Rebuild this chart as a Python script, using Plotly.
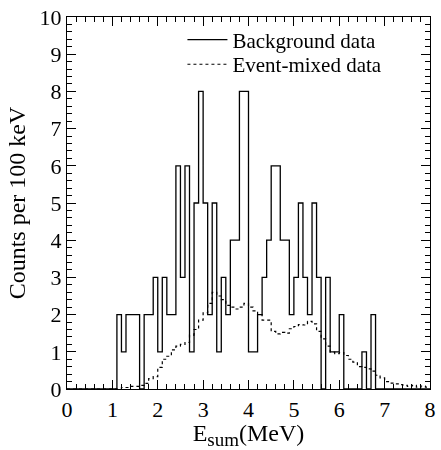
import numpy as np
import plotly.graph_objects as go

# bin lower edges (MeV), 100 keV bins
bin_edges = [round(0.1 * i, 1) for i in range(81)]

# Background data counts per 100 keV bin (0.0 .. 7.9)
background = [0, 0, 0, 0, 0, 0, 0, 0, 0, 0,
              0, 2, 1, 2, 2, 2, 0, 2, 2, 3,
              1, 3, 2, 2, 6, 3, 6, 1, 5, 8,
              5, 2, 5, 1, 3, 2, 4, 4, 8, 8,
              1, 1, 2, 3, 4, 6, 6, 4, 4, 2,
              3, 5, 3, 2, 5, 3, 0, 3, 1, 1,
              2, 0, 0, 0, 0, 1, 0, 2, 0, 0,
              0, 0, 0, 0, 0, 0, 0, 0, 0, 0]

# Event-mixed data per 100 keV bin (0.0 .. 7.9)
mixed = [0, 0, 0, 0, 0, 0, 0, 0, 0, 0,
         0, 0, 0.04, 0.04, 0.07, 0.07, 0.10, 0.15, 0.28, 0.33,
         0.58, 0.80, 0.88, 1.05, 1.15, 1.20, 1.25, 1.45, 1.60, 1.85,
         2.05, 2.30, 2.60, 2.50, 2.40, 2.25, 2.20, 2.15, 2.20, 2.30,
         2.20, 2.10, 2.00, 1.85, 1.85, 1.55, 1.48, 1.52, 1.50, 1.62,
         1.68, 1.73, 1.72, 1.82, 1.75, 1.55, 1.35, 1.15, 0.99, 0.95,
         0.98, 0.90, 0.80, 0.72, 0.60, 0.58, 0.54, 0.48, 0.37, 0.30,
         0.20, 0.16, 0.14, 0.12, 0.10, 0.07, 0.10, 0.05, 0.08, 0.05]

x_ticks = [0, 1, 2, 3, 4, 5, 6, 7, 8]
y_ticks = [0, 1, 2, 3, 4, 5, 6, 7, 8, 9, 10]

xs = bin_edges
ys_bg = background + [background[-1]]
ys_mx = mixed + [mixed[-1]]

FONT = "Liberation Serif"

fig = go.Figure()
fig.add_trace(go.Scatter(x=xs, y=ys_bg, mode="lines", line_shape="hv",
                         line=dict(color="black", width=1.3),
                         name="Background data", legend="legend"))
fig.add_trace(go.Scatter(x=xs, y=ys_mx, mode="lines", line_shape="hv",
                         line=dict(color="black", width=1.2, dash="3px,3px"),
                         name="Event-mixed data", legend="legend2"))
# invisible trace carrying the mirrored (top/right) tick axes
fig.add_trace(go.Scatter(x=[0, 8], y=[0, 10], mode="markers", opacity=0,
                         xaxis="x2", yaxis="y2", showlegend=False, hoverinfo="skip"))

tick_common = dict(showgrid=False, zeroline=False, showline=True,
                   linecolor="black", linewidth=1.3,
                   ticks="inside", ticklen=9, tickwidth=1.3, tickcolor="black",
                   ticklabeloverflow="allow",
                   tickfont=dict(family=FONT, size=22, color="black"))
minor = dict(dtick=0.2, ticks="inside", ticklen=5, tickwidth=1.1,
             tickcolor="black", showgrid=False)

fig.update_layout(
    xaxis=dict(range=[0, 8], tickvals=x_ticks, ticktext=[str(v) for v in x_ticks],
               minor=minor,
               title=dict(text="E<sub><span style='font-size:19px'>sum</span></sub>(MeV)",
                          font=dict(family=FONT, size=24, color="black"), standoff=2),
               **tick_common),
    yaxis=dict(range=[0, 10], tickvals=y_ticks, ticktext=[str(v) for v in y_ticks],
               minor=minor,
               title=dict(text="Counts per 100 keV",
                          font=dict(family=FONT, size=24, color="black"), standoff=7),
               **tick_common),
    xaxis2=dict(range=[0, 8], tickvals=x_ticks, minor=minor, overlaying="x",
                side="top", anchor="y2", showticklabels=False, **tick_common),
    yaxis2=dict(range=[0, 10], tickvals=y_ticks, minor=minor, overlaying="y",
                side="right", anchor="x2", showticklabels=False, **tick_common),
)

fig.update_layout(
    width=441, height=450,
    margin=dict(l=67, r=5, t=14, b=61),
    plot_bgcolor="white", paper_bgcolor="white",
    showlegend=True,
    legend=dict(x=0.318, y=0.938, xanchor="left", yanchor="middle",
                bgcolor="rgba(0,0,0,0)", borderwidth=0,
                font=dict(family=FONT, size=21, color="black"), itemwidth=40),
    legend2=dict(x=0.318, y=0.872, xanchor="left", yanchor="middle",
                 bgcolor="rgba(0,0,0,0)", borderwidth=0,
                 font=dict(family=FONT, size=21, color="black"), itemwidth=40),
)

fig.write_html("out.html")
